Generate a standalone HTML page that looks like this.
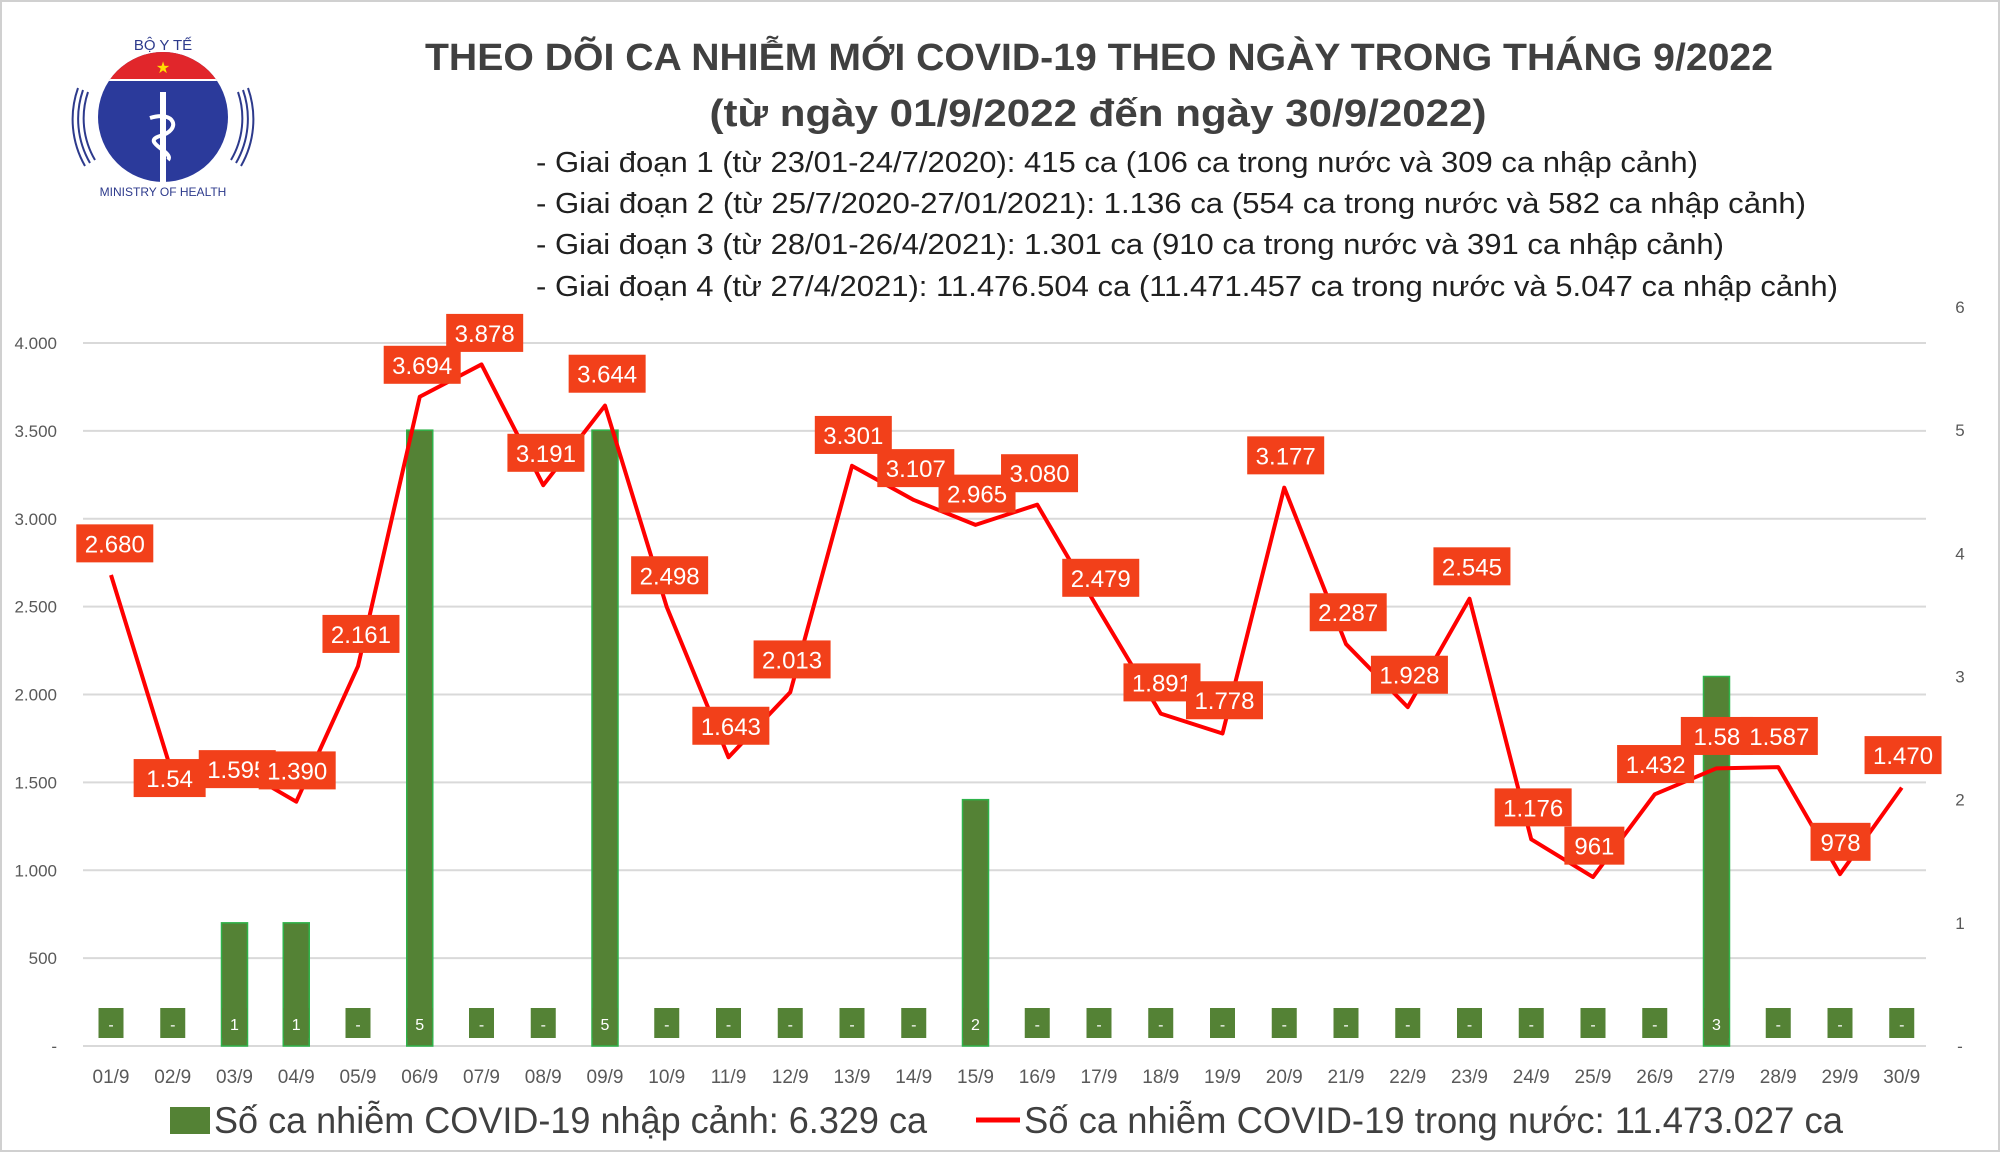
<!DOCTYPE html>
<html><head><meta charset="utf-8"><style>
html,body{margin:0;padding:0;background:#fff}
svg{display:block}
text{font-family:"Liberation Sans",sans-serif}
</style></head><body>
<svg id="s" width="2000" height="1152" viewBox="0 0 2000 1152" xmlns="http://www.w3.org/2000/svg">
<rect x="1" y="1" width="1998" height="1150" fill="#fff" stroke="#d0d0d0" stroke-width="2"/>
<!-- logo -->
<g>
<path d="M88 92 A82 82 0 0 0 95 160" fill="none" stroke="#2d3a8c" stroke-width="2"/>
<path d="M83 90 A88 88 0 0 0 90 163" fill="none" stroke="#2d3a8c" stroke-width="2"/>
<path d="M78 88 A94 94 0 0 0 85 166" fill="none" stroke="#2d3a8c" stroke-width="2"/>
<path d="M238 92 A82 82 0 0 1 231 160" fill="none" stroke="#2d3a8c" stroke-width="2"/>
<path d="M243 90 A88 88 0 0 1 236 163" fill="none" stroke="#2d3a8c" stroke-width="2"/>
<path d="M248 88 A94 94 0 0 1 241 166" fill="none" stroke="#2d3a8c" stroke-width="2"/>
<clipPath id="lc"><circle cx="163" cy="117" r="65"/></clipPath>
<circle cx="163" cy="117" r="65" fill="#2b3a9b"/>
<rect x="90" y="50" width="150" height="30" fill="#e1262b" clip-path="url(#lc)"/>
<rect x="90" y="79" width="150" height="2" fill="#fff" clip-path="url(#lc)"/>
<text x="163" y="73" font-size="16" fill="#ffdd00" text-anchor="middle">★</text>
<rect x="160" y="92" width="6" height="90" fill="#fff"/>
<path d="M150 118 C175 110 182 130 160 136 C140 142 175 152 168 160" fill="none" stroke="#fff" stroke-width="4"/>
<text x="163" y="50" font-size="15" fill="#2d3a8c" text-anchor="middle">BỘ Y TẾ</text>
<text x="163" y="196" font-size="12" fill="#2d3a8c" text-anchor="middle">MINISTRY OF HEALTH</text>
</g>
<text x="1099" y="70" font-size="38" font-weight="bold" fill="#404040" text-anchor="middle" textLength="1348" lengthAdjust="spacingAndGlyphs">THEO DÕI CA NHIỄM MỚI COVID-19 THEO NGÀY TRONG THÁNG 9/2022</text>
<text x="1098" y="126" font-size="38" font-weight="bold" fill="#404040" text-anchor="middle" textLength="777" lengthAdjust="spacingAndGlyphs">(từ ngày 01/9/2022 đến ngày 30/9/2022)</text>
<g font-size="29" fill="#202020">
<text x="536" y="172" textLength="1162" lengthAdjust="spacingAndGlyphs">- Giai đoạn 1 (từ 23/01-24/7/2020): 415 ca (106 ca trong nước và 309 ca nhập cảnh)</text>
<text x="536" y="213" textLength="1270" lengthAdjust="spacingAndGlyphs">- Giai đoạn 2 (từ 25/7/2020-27/01/2021): 1.136 ca (554 ca trong nước và 582 ca nhập cảnh)</text>
<text x="536" y="254" textLength="1188" lengthAdjust="spacingAndGlyphs">- Giai đoạn 3 (từ 28/01-26/4/2021): 1.301 ca (910 ca trong nước và 391 ca nhập cảnh)</text>
<text x="536" y="296" textLength="1302" lengthAdjust="spacingAndGlyphs">- Giai đoạn 4 (từ 27/4/2021): 11.476.504 ca (11.471.457 ca trong nước và 5.047 ca nhập cảnh)</text>
</g>
<g id="chart"></g>
<!-- legend -->
<rect x="170" y="1107" width="40" height="27" fill="#548235"/>
<text x="214" y="1133" font-size="37" fill="#404040" textLength="713" lengthAdjust="spacingAndGlyphs">Số ca nhiễm COVID-19 nhập cảnh: 6.329 ca</text>
<line x1="976" y1="1120" x2="1020" y2="1120" stroke="#ff0000" stroke-width="5"/>
<text x="1024" y="1133" font-size="37" fill="#404040" textLength="819" lengthAdjust="spacingAndGlyphs">Số ca nhiễm COVID-19 trong nước: 11.473.027 ca</text>
</svg>
<script>
var NS="http://www.w3.org/2000/svg",g=document.getElementById("chart");
function el(t,a,txt){var e=document.createElementNS(NS,t);for(var k in a)e.setAttribute(k,a[k]);if(txt!=null)e.textContent=txt;g.appendChild(e);return e;}
var y0=1046,pu=703/4000,bu=739/6,x0=111,dx=61.75;
var line=[2680,1540,1595,1390,2161,3694,3878,3191,3644,2498,1643,2013,3301,3107,2965,3080,2479,1891,1778,3177,2287,1928,2545,1176,961,1432,1580,1587,978,1470];
var labs=["2.680","1.54","1.595","1.390","2.161","3.694","3.878","3.191","3.644","2.498","1.643","2.013","3.301","3.107","2.965","3.080","2.479","1.891","1.778","3.177","2.287","1.928","2.545","1.176","961","1.432","1.58","1.587","978","1.470"];
var lp=[[90,426],[133,610],[186,603],[233,604],[283,497],[331,286],[380,261],[428,355],[476,293],[525,451],[573,569],[621,517],[669,341],[718,367],[766,387],[815,371],[863,453],[911,535],[960,549],[1008,357],[1057,480],[1105,529],[1154,444],[1202,633],[1250,663],[1298,599],[1346,577],[1395,577],[1443,660],[1492,592]];
var bars={2:1,3:1,5:5,8:5,14:2,26:3};
for(var i=0;i<=8;i++){var y=y0-i*500*pu;el("line",{x1:83,x2:1926,y1:y,y2:y,stroke:"#d9d9d9","stroke-width":2});
el("text",{x:57,y:y+6,"font-size":17,fill:"#595959","text-anchor":"end"},i==0?"-":(i*500).toLocaleString("de-DE"));}
for(var j=0;j<=6;j++){el("text",{x:1960,y:y0-j*bu+6,"font-size":17,fill:"#595959","text-anchor":"middle"},j==0?"-":j);}
for(var i=0;i<30;i++){var x=x0+i*dx;
el("text",{x:x,y:1083,"font-size":19,fill:"#595959","text-anchor":"middle"},(i<9?"0":"")+(i+1)+"/9");
if(bars[i]){var h=bars[i]*bu;el("rect",{x:x-13,y:y0-h,width:26,height:h,fill:"#548235",stroke:"#2fb34a","stroke-width":1.5});}
el("rect",{x:x-12.5,y:1008,width:25,height:30,fill:"#548235"});
el("text",{x:x,y:1030,"font-size":16,fill:"#fff","text-anchor":"middle"},bars[i]?bars[i]:"-");}
var pts=line.map(function(v,i){return (x0+i*dx)+","+(y0-v*pu)}).join(" ");
el("polyline",{points:pts,fill:"none",stroke:"#ff0000","stroke-width":4,"stroke-linejoin":"round"});
for(var i=0;i<30;i++){var cx=lp[i][0]*1.2755,cy=lp[i][1]*1.2755,L=labs[i].length,w=L>=5?77:(L==4?72:60);
el("rect",{x:cx-w/2,y:cy-19,width:w,height:38,fill:"#f2401a"});
el("text",{x:cx,y:cy+9,"font-size":24,fill:"#fff","text-anchor":"middle"},labs[i]);}
</script>
</body></html>
